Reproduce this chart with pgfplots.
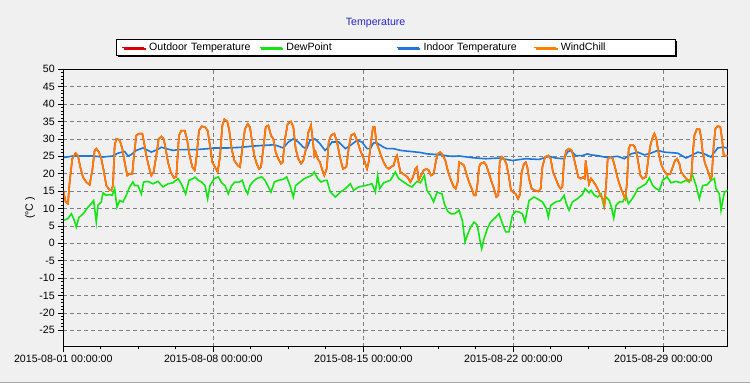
\documentclass[border=0pt]{standalone}
\usepackage{fontspec}
\setmainfont{Liberation Sans}
\usepackage{pgfplots}
\pgfplotsset{compat=1.18}
\usepackage{pgfplotstable}
\usetikzlibrary{shadows}

\definecolor{bg}{RGB}{240,240,240}
\definecolor{cout}{RGB}{220,0,0}
\definecolor{cdew}{RGB}{20,230,20}
\definecolor{cin}{RGB}{30,120,220}
\definecolor{cwc}{RGB}{255,128,0}
\definecolor{ctitle}{RGB}{40,40,200}
\definecolor{cgrid}{RGB}{128,128,128}

% x unit: 1/64.29 day (450 = 7 days), 0 = 2015-08-01 00:00
\pgfplotstableread{
t v
0 15.2
7 11.9
14 11.4
19 17.6
27 24.3
37 25.9
44 25.2
51 21.9
59 19.0
69 17.6
79 16.8
87 21.0
94 26.7
99 27.2
107 26.2
114 24.3
121 21.0
129 16.6
137 15.5
144 15.2
149 16.6
154 28.1
159 30.0
169 29.7
177 27.2
184 23.3
192 19.5
199 20.0
207 20.0
212 25.2
219 31.0
227 31.5
237 31.5
242 29.1
249 25.2
257 21.9
264 19.5
271 20.5
279 25.2
286 30.0
294 30.7
301 30.0
307 27.2
314 23.3
322 20.5
332 18.8
339 19.1
347 31.0
354 32.4
364 32.4
371 30.0
379 25.2
387 21.9
394 21.0
395 21.4
400 25.2
407 32.4
415 33.6
425 33.4
433 32.4
440 28.1
447 23.3
455 21.9
463 20.5
470 24.8
477 33.9
483 35.6
492 35.0
498 32.4
505 27.2
513 23.8
523 22.4
530 21.9
537 27.2
545 32.9
553 34.3
560 33.4
565 30.0
573 25.2
580 22.9
587 21.4
593 21.9
600 27.2
607 33.4
615 33.9
623 31.0
630 30.0
637 26.2
645 24.3
653 22.9
658 23.3
665 30.0
673 34.3
683 35.0
690 33.4
697 27.2
705 24.3
713 22.9
720 23.8
728 27.2
735 31.9
743 33.9
748 30.0
753 25.2
757 26.2
763 24.3
770 23.3
777 21.0
783 19.5
790 21.4
791 22.4
796 29.1
803 31.0
813 31.5
821 29.1
831 24.3
839 21.4
849 21.9
856 27.2
863 31.0
873 31.5
883 29.1
891 26.7
901 24.3
911 21.4
916 23.3
923 29.1
929 33.4
934 33.4
939 29.1
946 27.2
953 25.2
961 23.3
969 21.9
976 21.4
983 21.9
991 22.4
996 24.3
1001 25.2
1006 22.9
1011 20.5
1019 20.0
1026 19.5
1033 19.0
1041 17.6
1049 19.0
1056 21.4
1061 21.9
1066 18.1
1073 19.5
1081 21.0
1089 21.4
1096 21.0
1103 19.5
1111 20.0
1117 23.3
1123 25.7
1131 26.2
1139 25.2
1146 23.8
1153 21.0
1161 18.6
1171 16.2
1177 15.7
1183 17.6
1187 23.3
1195 22.9
1202 22.4
1209 20.0
1217 17.6
1225 15.7
1232 13.8
1237 13.8
1242 16.6
1247 21.9
1252 22.9
1262 23.3
1269 22.4
1277 20.0
1285 17.6
1292 15.7
1299 13.3
1305 13.8
1309 23.3
1315 24.8
1322 24.3
1329 22.9
1337 19.0
1343 15.2
1349 14.7
1357 14.2
1364 12.8
1369 13.8
1375 20.5
1382 22.9
1387 23.3
1392 21.9
1397 18.6
1405 15.7
1415 15.2
1425 14.9
1432 15.7
1437 21.9
1445 24.8
1455 25.2
1462 24.3
1469 20.5
1477 18.6
1485 16.6
1492 15.7
1497 16.2
1502 23.8
1509 26.7
1517 27.2
1525 26.7
1532 24.3
1539 21.4
1545 19.0
1552 18.6
1559 19.0
1564 18.6
1567 23.8
1571 20.5
1577 17.1
1583 18.6
1591 17.6
1598 16.6
1605 15.2
1611 13.8
1618 12.8
1623 10.9
1628 16.6
1633 24.3
1641 24.8
1648 24.3
1655 21.9
1663 18.6
1673 15.7
1681 13.8
1686 12.8
1691 17.6
1696 27.2
1701 28.3
1708 28.3
1715 27.6
1723 24.3
1731 19.5
1738 18.6
1748 19.1
1755 24.3
1761 28.1
1768 30.5
1773 31.5
1779 30.0
1785 26.2
1793 22.9
1801 21.0
1811 19.7
1821 20.0
1828 21.9
1835 23.8
1841 24.3
1848 22.9
1853 20.5
1861 19.5
1868 18.6
1875 18.1
1883 18.1
1888 25.2
1893 31.0
1901 32.9
1908 32.9
1913 30.5
1918 26.2
1925 22.9
1933 21.0
1941 18.6
1945 19.1
1951 28.1
1956 32.9
1963 33.7
1971 33.4
1976 30.0
1981 25.2
1988 25.2
1993 25.2
}\outdoor

\pgfplotstableread{
t v
0 24.6
29 25.1
59 25.1
89 25.1
119 24.8
149 25.1
164 25.9
184 26.4
194 25.1
204 25.5
219 26.7
239 27.4
254 26.7
264 26.2
284 27.0
294 27.6
309 27.2
329 26.7
344 26.9
374 26.9
395 26.9
435 27.2
455 27.4
495 27.4
535 27.6
565 27.9
595 28.1
630 28.3
640 28.1
660 27.4
675 29.1
690 30.0
705 29.1
720 27.6
730 27.2
740 29.6
755 30.0
770 28.6
785 26.7
791 27.2
806 29.1
826 29.1
846 27.2
861 28.1
881 29.6
896 29.1
911 27.2
921 27.2
931 28.9
941 28.8
961 27.6
971 27.2
991 27.2
1011 26.7
1041 26.4
1071 26.1
1091 25.7
1121 25.5
1136 25.4
1151 25.1
1171 25.0
1187 25.1
1227 24.6
1267 24.3
1307 24.5
1347 23.8
1387 24.3
1427 24.1
1457 25.0
1477 24.5
1502 24.3
1512 26.2
1522 26.7
1537 25.2
1557 25.2
1572 25.7
1583 25.4
1603 25.2
1623 24.8
1643 24.8
1663 25.0
1683 24.3
1703 25.7
1723 26.2
1743 25.4
1763 25.9
1783 26.7
1803 26.2
1843 25.9
1868 24.5
1883 25.2
1903 26.2
1923 25.7
1943 24.8
1963 27.4
1978 27.6
1993 27.4
}\indoor

\pgfplotstableread{
t v
0 6.6
14 7.1
24 8.5
31 7.1
39 4.7
47 7.5
54 8.0
64 9.0
74 10.4
84 11.4
91 12.3
99 6.1
104 10.9
114 11.9
119 14.5
129 13.8
139 14.0
147 13.8
154 15.7
161 10.4
169 12.3
179 11.9
189 13.8
199 16.2
209 17.6
214 16.6
224 16.6
234 14.2
241 17.6
254 17.8
269 17.1
284 17.8
299 16.2
314 17.1
329 17.4
344 18.6
354 17.1
367 14.2
377 18.1
389 18.6
395 19.0
405 18.1
415 17.6
425 16.6
433 12.8
440 16.6
453 18.6
465 19.1
475 17.4
485 16.6
495 14.2
505 16.6
515 17.6
527 17.6
537 18.1
545 15.7
553 14.2
560 16.6
570 17.8
580 18.6
595 19.1
605 18.1
613 16.6
623 14.7
633 17.6
645 18.1
660 18.4
670 19.1
680 16.6
690 13.3
697 16.6
710 17.6
723 18.6
735 19.1
745 19.5
753 20.5
763 18.6
773 17.6
785 18.1
791 18.1
801 14.7
816 13.3
831 14.7
846 15.7
861 17.1
871 15.2
886 16.2
906 16.6
926 17.1
936 14.7
943 19.5
949 15.7
961 17.4
981 18.1
996 20.5
1006 18.6
1021 17.6
1036 16.6
1046 16.2
1061 17.8
1071 17.4
1083 19.5
1091 15.2
1101 13.8
1111 11.9
1121 14.7
1136 14.2
1143 11.4
1153 9.2
1163 8.5
1173 8.5
1181 9.0
1187 9.5
1197 6.6
1205 0.4
1212 2.3
1222 4.7
1232 6.1
1242 5.2
1249 1.3
1255 -1.5
1262 1.3
1272 4.2
1282 6.1
1297 7.5
1307 8.5
1319 5.2
1327 3.3
1337 3.3
1347 8.0
1357 9.2
1367 9.0
1377 8.5
1385 6.1
1397 12.3
1412 13.3
1422 12.8
1437 11.9
1449 10.0
1455 7.5
1462 10.9
1477 11.9
1492 12.3
1502 13.8
1509 11.4
1517 9.5
1527 11.9
1542 12.8
1557 14.0
1565 15.7
1577 14.5
1583 15.2
1593 13.8
1603 13.3
1613 14.2
1621 10.9
1628 13.3
1638 12.3
1645 10.0
1651 7.3
1658 10.9
1668 11.9
1678 11.9
1688 13.8
1695 11.4
1703 12.3
1713 13.8
1723 15.7
1733 16.2
1748 17.1
1758 18.8
1768 16.6
1778 15.7
1788 15.2
1798 18.1
1811 19.1
1823 17.4
1838 17.8
1853 17.4
1868 18.1
1878 17.6
1886 20.0
1898 16.6
1908 12.8
1918 16.6
1931 16.8
1943 18.1
1953 18.6
1958 15.7
1968 14.2
1973 9.5
1983 14.7
1993 15.2
}\dewpoint

\begin{document}
\begin{tikzpicture}
\fill[bg] (0pt,0pt) rectangle (750pt,383pt);
\useasboundingbox (0pt,0pt) rectangle (750pt,383pt);
\draw[black!35, line width=1pt] (0pt,0.5pt) -- (750pt,0.5pt);
\node[ctitle, font=\fontsize{10.6}{12}\selectfont] at (375.6pt,359.7pt) {Temperature};
\begin{axis}[
  at={(63.3pt,36.3pt)}, anchor=south west,
  scale only axis, width=664.4pt, height=277.4pt,
  xmin=0, xmax=1993, ymin=-29.7, ymax=50,
  xtick={0,450,900,1350,1800},
  xticklabels={2015-08-01 00:00:00,2015-08-08 00:00:00,2015-08-15 00:00:00,2015-08-22 00:00:00,2015-08-29 00:00:00},
  minor x tick num=3,
  ytick={-25,-20,...,50},
  minor y tick num=4,
  tick pos=left,
  tick align=outside,
  major tick length=5pt, minor tick length=2.5pt,
  every tick/.style={black, line width=0.8pt},
  xmajorgrids, ymajorgrids,
  major grid style={cgrid, line width=0.8pt, dash pattern=on 4pt off 3pt},
  axis line style={line width=0.8pt, black},
  axis background/.style={fill=bg},
  tick label style={font=\fontsize{10.6}{12}\selectfont},
  /pgf/number format/assume math mode=true,
  ylabel={(°C )},
  ylabel style={at={(axis description cs:-0.0501,0.5)}, anchor=center, font=\fontsize{10.6}{12}\selectfont},
  legend columns=4,
  legend cell align=left,
  legend image code/.code={\draw[#1] (0pt,0pt) -- (22pt,0pt);},
  legend style={
    at={(axis description cs:0.5008,1.0786)}, anchor=center,
    draw=black, line width=0.8pt, fill=white,
    inner xsep=5pt, inner ysep=0.5pt,
    font=\fontsize{10.6}{12}\selectfont,
    nodes={text width=109.6pt, align=left, inner xsep=0pt, inner ysep=2pt, text height=8pt, text depth=2.5pt},
    /tikz/every odd column/.append style={column sep=4pt},
    /tikz/every even column/.append style={column sep=0pt},
    drop shadow={shadow xshift=1.5pt, shadow yshift=-1.5pt, fill=black, opacity=1},
  },
]
\addplot[cout, line width=1.6pt] table[x=t, y=v] {\outdoor};
\addlegendentry{Outdoor Temperature}
\addplot[cdew, line width=1.6pt] table[x=t, y=v] {\dewpoint};
\addlegendentry{DewPoint}
\addplot[cin, line width=1.6pt] table[x=t, y=v] {\indoor};
\addlegendentry{Indoor Temperature}
\addplot[cwc, line width=1.6pt] table[x=t, y=v] {\outdoor};
\addlegendentry{WindChill}
\draw[black, line width=1.8pt] (rel axis cs:0,0) -- (rel axis cs:0,1);
\draw[black, line width=1.8pt] (rel axis cs:0,0) -- (rel axis cs:1,0);
\end{axis}
\end{tikzpicture}
\end{document}
